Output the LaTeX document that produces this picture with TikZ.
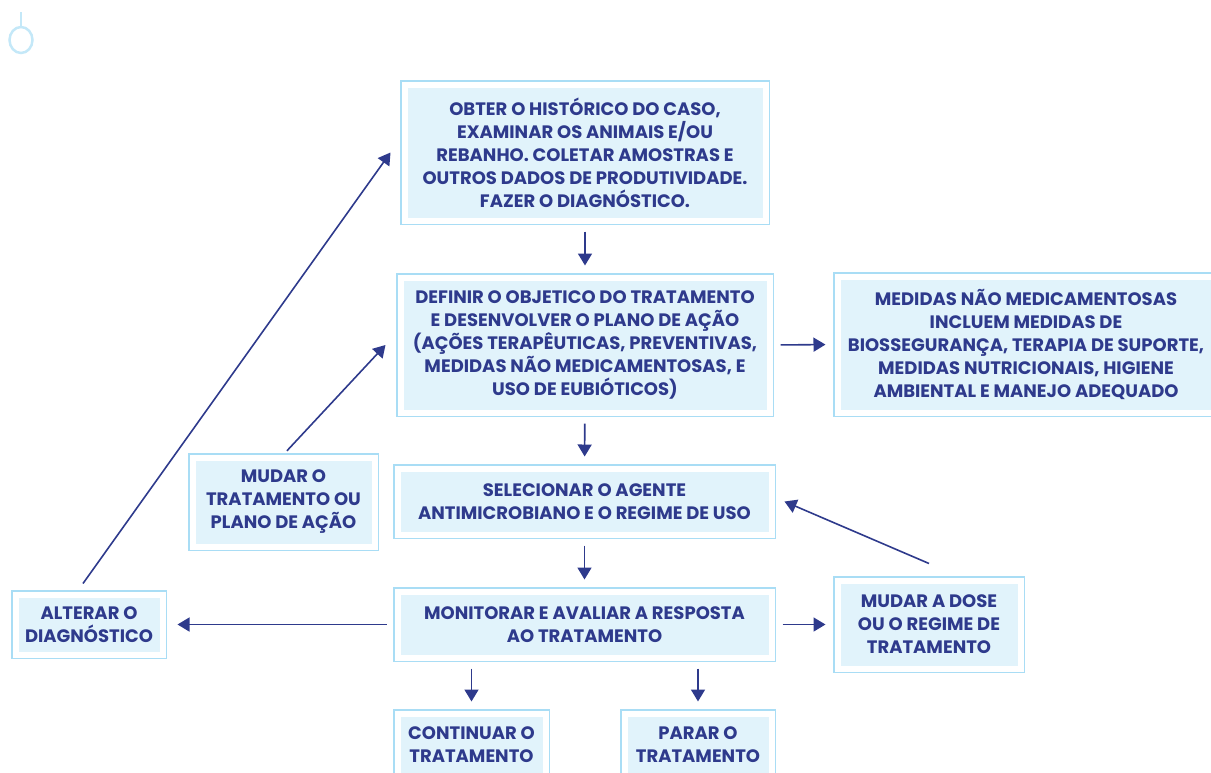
\documentclass[tikz,border=0pt]{standalone}
\usepackage{fontspec}
\setmainfont{Poppins}
\usetikzlibrary{arrows.meta}
\definecolor{navy}{HTML}{2E3A8C}
\definecolor{boxline}{HTML}{A9DDF5}
\definecolor{boxfill}{HTML}{E1F3FB}
\definecolor{ring}{HTML}{C4E8F8}

\begin{document}
\begin{tikzpicture}[x=1pt,y=-1pt]
   \tikzstyle{box}=[preaction={draw=boxline, line width=9pt}, draw=white, line width=6pt, fill=boxfill, text=navy, align=center, inner sep=0pt, font=\bfseries\fontsize{18}{23}\selectfont]
   \tikzstyle{arrow}=[draw=navy, line width=1.6pt, -{Triangle[length=12pt,width=14pt]}, shorten <=8pt, shorten >=9pt]

\useasboundingbox (0,0) rectangle (1211,772);
\clip (0,0) rectangle (1211,772);

% marca no canto
\draw[ring, line width=2.5pt] (21,12) -- (21,27);
\draw[ring, line width=2.5pt] (21,40) circle[x radius=11.5pt, y radius=13pt];

\node[box, minimum width=361pt, minimum height=136pt] (hist) at (585,152.5)
    {OBTER O HISTÓRICO DO CASO,\\ EXAMINAR OS ANIMAIS E/OU\\ REBANHO. COLETAR AMOSTRAS E\\ OUTROS DADOS DE PRODUTIVIDADE.\\ FAZER O DIAGNÓSTICO.};
\node[box, minimum width=369pt, minimum height=135pt] (def) at (585,345)
    {DEFINIR O OBJETICO DO TRATAMENTO\\ E DESENVOLVER O PLANO DE AÇÃO\\ (AÇÕES TERAPÊUTICAS, PREVENTIVAS,\\ MEDIDAS NÃO MEDICAMENTOSAS, E\\ USO DE EUBIÓTICOS)};
\node[box, minimum width=377pt, minimum height=136pt] (med) at (1026,344.5)
    {MEDIDAS NÃO MEDICAMENTOSAS\\ INCLUEM MEDIDAS DE\\ BIOSSEGURANÇA, TERAPIA DE SUPORTE,\\ MEDIDAS NUTRICIONAIS, HIGIENE\\ AMBIENTAL E MANEJO ADEQUADO};
\node[box, minimum width=374pt, minimum height=66pt] (sel) at (584.5,501.5)
    {SELECIONAR O AGENTE\\ ANTIMICROBIANO E O REGIME DE USO};
\node[box, minimum width=374pt, minimum height=66pt] (mon) at (584.5,624.5)
    {MONITORAR E AVALIAR A RESPOSTA\\ AO TRATAMENTO};
\node[box, minimum width=182pt, minimum height=89pt] (mudtrat) at (283.5,502)
    {MUDAR O\\ TRATAMENTO OU\\ PLANO DE AÇÃO};
\node[box, minimum width=147pt, minimum height=60pt] (alt) at (89,624.5)
    {ALTERAR O\\ DIAGNÓSTICO};
\node[box, minimum width=183pt, minimum height=88pt] (dose) at (929,624.5)
    {MUDAR A DOSE\\ OU O REGIME DE\\ TRATAMENTO};
\node[box, minimum width=148pt, minimum height=62pt] (cont) at (471.5,744.5)
    {CONTINUAR O\\ TRATAMENTO};
\node[box, minimum width=147pt, minimum height=62pt] (parar) at (698,744.5)
    {PARAR O\\ TRATAMENTO};

% fluxo principal
\draw[arrow] (hist) -- (def);
\draw[arrow] (def) -- (sel);
\draw[arrow] (sel) -- (mon);
\draw[arrow] (cont.north |- mon.south) -- (cont.north);
\draw[arrow] (parar.north |- mon.south) -- (parar.north);
\draw[arrow] (def.east) -- (med.west);
\draw[arrow] (mon.east) -- (dose.west);
\draw[arrow, shorten >=12pt] (mon.west) -- (alt.east);

% retornos
\draw[arrow, shorten <=5pt, shorten >=0pt] (mudtrat.north) -- ([xshift=-12pt]def.west);
\draw[arrow, shorten <=0pt, shorten >=0pt] ([yshift=14pt]dose.north) -- ([xshift=10pt]sel.east);
\draw[arrow, shorten <=0pt, shorten >=0pt] ([xshift=-6pt,yshift=8pt]alt.north) -- ([xshift=-11pt]hist.west);

\end{tikzpicture}
\end{document}
